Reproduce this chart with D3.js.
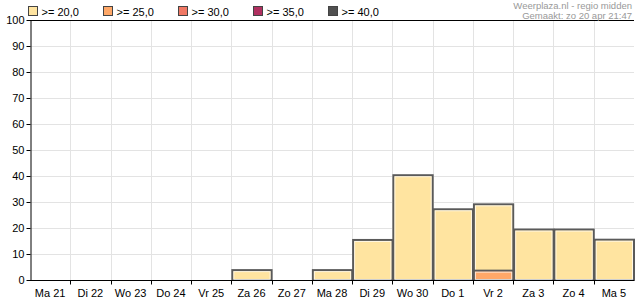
<!DOCTYPE html>
<html>
<head>
<meta charset="utf-8">
<script src="https://cdn.jsdelivr.net/npm/d3@7"></script>
<style>
  body { margin: 0; background: #fff; }
  svg { display: block; font-family: "Liberation Sans", Arial, sans-serif; }
</style>
</head>
<body>
<svg id="chart" width="635" height="300"></svg>
<script>
// chart data
const days = ["Ma 21", "Di 22", "Wo 23", "Do 24", "Vr 25", "Za 26", "Zo 27", "Ma 28",
              "Di 29", "Wo 30", "Do 1", "Vr 2", "Za 3", "Zo 4", "Ma 5"];
const ge20 = [0, 0, 0, 0, 0, 3.8, 0, 3.8, 15.4, 40.3, 27.2, 29.1, 19.4, 19.4, 15.5];
const ge25 = [0, 0, 0, 0, 0, 0, 0, 0, 0, 0, 0, 3.6, 0, 0, 0];
const ge30 = [0, 0, 0, 0, 0, 0, 0, 0, 0, 0, 0, 0, 0, 0, 0];
const ge35 = [0, 0, 0, 0, 0, 0, 0, 0, 0, 0, 0, 0, 0, 0, 0];
const ge40 = [0, 0, 0, 0, 0, 0, 0, 0, 0, 0, 0, 0, 0, 0, 0];
const seriesNames = [">= 20,0", ">= 25,0", ">= 30,0", ">= 35,0", ">= 40,0"];
const yTicks = [0, 10, 20, 30, 40, 50, 60, 70, 80, 90, 100];

const colors = ["#ffe4a0", "#ffa868", "#f07864", "#b03060", "#505050"];
const series = [ge20, ge25, ge30, ge35, ge40];

const svg = d3.select("#chart");
const plotLeft = 30, plotRight = 634, plotTop = 20, plotBottom = 280;

const x = d3.scaleBand().domain(days).range([plotLeft, plotRight]).padding(0);
const y = d3.scaleLinear().domain([0, 100]).range([plotBottom, plotTop]);

// grid
svg.append("g").selectAll("line").data(yTicks.slice(1))
  .join("line")
    .attr("x1", plotLeft).attr("x2", plotRight)
    .attr("y1", d => y(d) + 0.5).attr("y2", d => y(d) + 0.5)
    .attr("stroke", "#e3e3e3");
svg.append("g").selectAll("line").data(days.slice(1))
  .join("line")
    .attr("x1", d => Math.round(x(d)) + 0.5).attr("x2", d => Math.round(x(d)) + 0.5)
    .attr("y1", plotTop).attr("y2", plotBottom)
    .attr("stroke", "#e3e3e3");

// bars, each series drawn from zero on top of the previous one
series.forEach((vals, i) => {
  const g = svg.append("g");
  const rows = days.map((d, j) => ({ day: d, v: vals[j] })).filter(r => r.v > 0);
  g.selectAll("rect.out").data(rows).join("rect")
    .attr("x", r => x(r.day) + 1)
    .attr("y", r => y(r.v))
    .attr("width", x.bandwidth() - 1)
    .attr("height", r => y(0) - y(r.v))
    .attr("fill", colors[i])
    .attr("stroke", "#5a5a5a")
    .attr("stroke-width", 2);
  g.selectAll("rect.in").data(rows).join("rect")
    .attr("x", r => x(r.day) + 2.5)
    .attr("y", r => y(r.v) + 1.5)
    .attr("width", x.bandwidth() - 4)
    .attr("height", r => Math.max(0, y(0) - y(r.v) - 2))
    .attr("fill", "none")
    .attr("stroke", "rgba(255,255,255,0.7)")
    .attr("stroke-width", 1);
});

// axes
const yAxis = svg.append("g")
  .attr("transform", `translate(${plotLeft + 0.5},0)`)
  .call(d3.axisLeft(y).tickValues(yTicks).tickSize(4).tickSizeOuter(0).tickPadding(2));
yAxis.select(".domain").attr("stroke", "#000");
yAxis.selectAll("text").attr("font-size", 11).attr("fill", "#000")
  .attr("font-family", "Liberation Sans, Arial, sans-serif");

const xAxis = svg.append("g").attr("transform", `translate(0,${plotBottom + 0.5})`);
xAxis.append("line").attr("x1", plotLeft).attr("x2", plotRight).attr("stroke", "#000");
xAxis.selectAll("line.tick").data(days.slice(1)).join("line")
  .attr("class", "tick")
  .attr("x1", d => Math.round(x(d)) + 0.5).attr("x2", d => Math.round(x(d)) + 0.5)
  .attr("y1", 0).attr("y2", 4).attr("stroke", "#000");
xAxis.selectAll("text").data(days).join("text")
  .attr("x", d => x(d) + x.bandwidth() / 2)
  .attr("y", 16)
  .attr("text-anchor", "middle")
  .attr("font-size", 11)
  .text(d => d);

// top border
svg.append("line").attr("x1", plotLeft).attr("x2", plotRight)
  .attr("y1", plotTop + 0.5).attr("y2", plotTop + 0.5).attr("stroke", "#000");

// legend
const leg = svg.append("g").selectAll("g").data(seriesNames).join("g")
  .attr("transform", (d, i) => `translate(${28.5 + i * 75},6.5)`);
leg.append("rect").attr("width", 9).attr("height", 9)
  .attr("fill", (d, i) => colors[i]).attr("stroke", "#444");
leg.append("text").attr("x", 13).attr("y", 9).attr("font-size", 11).text(d => d);

// source note
const note = svg.append("g").attr("fill", "#999").attr("font-size", 9.5).attr("text-anchor", "end");
note.append("text").attr("x", 632).attr("y", 8.5).text("Weerplaza.nl - regio midden");
note.append("text").attr("x", 632).attr("y", 18.5).text("Gemaakt: zo 20 apr 21:47");
</script>
</body>
</html>
